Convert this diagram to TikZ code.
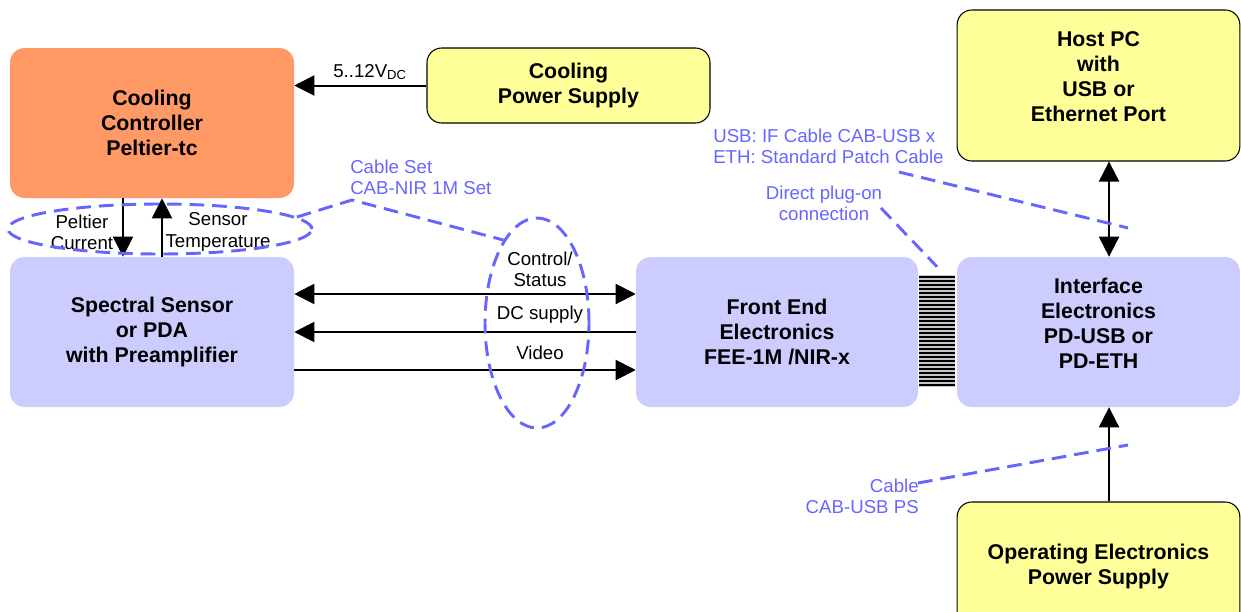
\documentclass[tikz,border=0pt]{standalone}
\usepackage{fontspec}
\setmainfont{Liberation Sans}
\usetikzlibrary{arrows.meta,shapes.geometric}
\definecolor{orangebox}{HTML}{FF9966}
\definecolor{lavbox}{HTML}{CCCCFF}
\definecolor{yelbox}{HTML}{FFFF99}
\definecolor{cableblue}{HTML}{6666FF}
\begin{document}
\begin{tikzpicture}[x=0.75pt,y=-0.75pt,
  blk/.style={rounded corners=11pt, align=center, inner sep=0pt, text=black,
    font=\bfseries\fontsize{16}{18.75}\selectfont},
  orbox/.style={blk, fill=orangebox, minimum width=213pt, minimum height=112.5pt},
  lvbox/.style={blk, fill=lavbox, minimum width=212pt, minimum height=112.5pt},
  ylbox/.style={blk, fill=yelbox, draw=black, line width=0.8pt, minimum width=212pt},
  lbl/.style={inner sep=0pt, align=center, text=black, font=\fontsize{14}{16}\selectfont},
  bl/.style={inner sep=0pt, text=cableblue, font=\fontsize{14}{16}\selectfont},
  arr/.style={line width=1.5pt, -{Triangle[length=15pt,width=15pt]}},
  darr/.style={line width=1.5pt, {Triangle[length=15pt,width=15pt]}-{Triangle[length=15pt,width=15pt]}},
  cab/.style={draw=cableblue, line width=2.2pt, dash pattern=on 11pt off 6pt},
  cabell/.style={cab, ellipse, inner sep=0pt}
]
\useasboundingbox (0,0) rectangle (1241,611);
\clip (0,0) rectangle (1241,611);

% boxes
\node[orbox] (ctrl) at (152,123) {Cooling\\Controller\\Peltier-tc};
\node[ylbox, minimum width=212.25pt, minimum height=56.25pt] (cps) at (568.5,85.5) {Cooling\\Power Supply};
\node[ylbox, minimum height=113.25pt] (host) at (1098.5,85.5) {Host PC\\with\\USB or\\Ethernet Port\\[-5pt]\mbox{}};
\node[lvbox, minimum width=213pt] (sensor) at (152,332) {Spectral Sensor\\or PDA\\with Preamplifier};
\node[lvbox, minimum width=211.5pt] (fee) at (777,332) {Front End\\Electronics\\FEE-1M /NIR-x};
\node[lvbox] (iface) at (1098.5,332) {Interface\\Electronics\\PD-USB or\\PD-ETH\\[-5pt]\mbox{}};
\node[ylbox, minimum height=96pt] (ops) at (1098.5,566) {Operating Electronics\\Power Supply};

% plug-on connector
\node[fill=gray!45, inner sep=0pt, minimum width=27pt, minimum height=84pt] (plug) at (937,331) {};
\foreach \yy in {277,281,...,385} \draw[line width=1.1pt] (919,\yy) -- (955,\yy);

% arrows
\draw[arr] (cps.west) -- (cps.west -| ctrl.east);
\node[lbl] (vdc) at (370,72) {5..12V\textsubscript{DC}};

\draw[arr] ([xshift=-21.75pt]ctrl.south) -- ([xshift=-21.75pt]sensor.north);
\draw[arr] ([xshift=7.5pt]sensor.north) -- ([xshift=7.5pt]ctrl.south);
\node[lbl] (pcur) at (82,232) {Peltier\\Current};
\node[lbl] (stmp) at (218,232) {Sensor\\Temperature};

\draw[darr] ([yshift=28.5pt]sensor.east) -- ([yshift=28.5pt]fee.west);
\draw[arr] (fee.west) -- (sensor.east);
\draw[arr] ([yshift=-28.5pt]sensor.east) -- ([yshift=-28.5pt]fee.west);
\node[lbl] (ctl) at (540,269) {Control/\\Status};
\node[lbl] (dcs) at (540,315) {DC supply};
\node[lbl] (vid) at (540,353) {Video};

\draw[darr] ([xshift=7.9pt]host.south) -- ([xshift=7.9pt]iface.north);
\draw[arr] ([xshift=7.9pt]ops.north) -- ([xshift=7.9pt]iface.south);

% cable annotations
\node[cabell, minimum width=228pt, minimum height=37.5pt] (ellA) at (160,229) {};
\node[cabell, minimum width=78pt, minimum height=157.5pt] (ellB) at (537,323) {};
\coordinate (k1) at (352,200);
\draw[cab] (ellA.5) -- (k1) -- (ellB.112);
\node[bl, anchor=west, align=left] (cset) at (350,177) {Cable Set\\CAB-NIR 1M Set};

\node[bl, anchor=west, align=left] (usbl) at (713,146) {USB: IF Cable CAB-USB x\\ETH: Standard Patch Cable};
\coordinate (u1) at (899,172);
\coordinate (u2) at (1128,228);
\draw[cab] (u1) -- (u2);

\node[bl, align=center] (dpl) at (824,203) {Direct plug-on\\connection};
\coordinate (d1) at (881,208);
\draw[cab] (d1) -- ([yshift=6pt]plug.north);

\node[bl, anchor=east, align=right] (cabps) at (919,496) {Cable\\CAB-USB PS};
\coordinate (c1) at (918,483);
\coordinate (c2) at (1128,445);
\draw[cab] (c1) -- (c2);
\end{tikzpicture}
\end{document}
